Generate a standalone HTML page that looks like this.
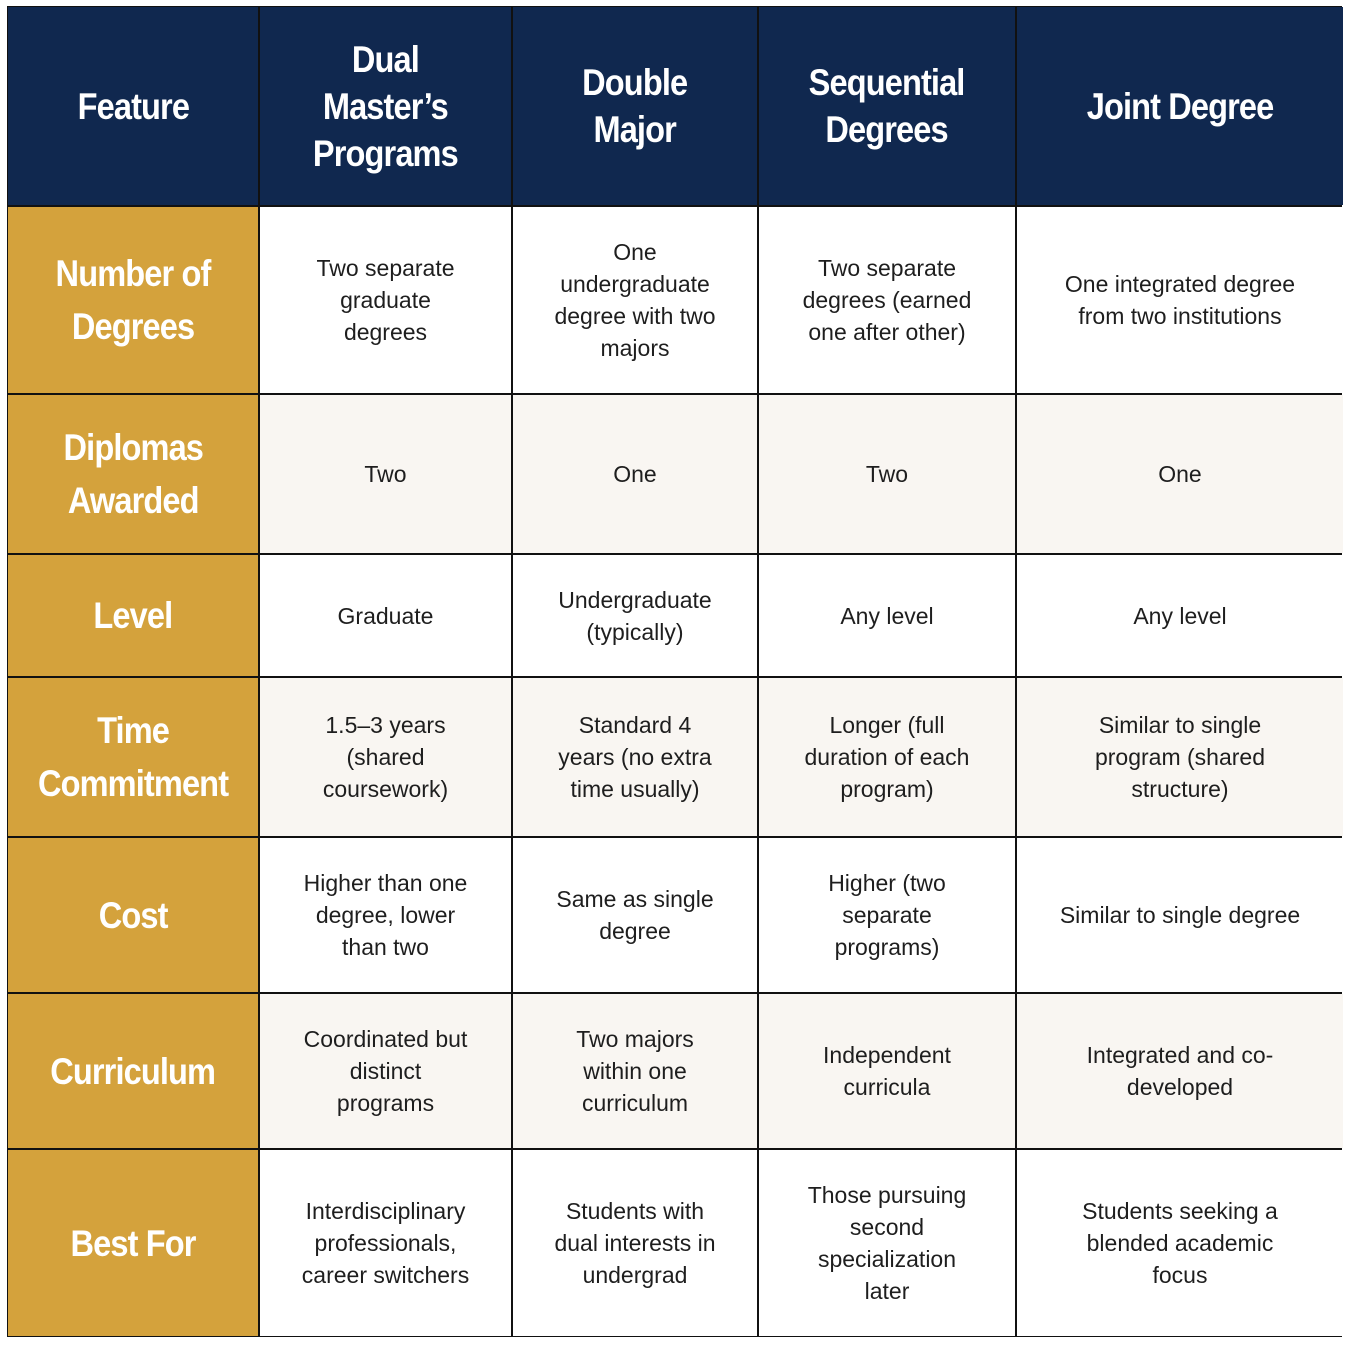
<!DOCTYPE html>
<html><head><meta charset="utf-8">
<style>
html,body{margin:0;padding:0;background:#fff;width:1349px;height:1346px;overflow:hidden}
.grid{position:absolute;left:7px;top:6px;width:1333px;display:grid;
grid-template-columns:250px 251px 244px 256px 326px;
grid-template-rows:198px 186px 158px 121px 158px 154px 154px 186px;
gap:2px;background:#111;border:1px solid #111}
.c{display:flex;align-items:center;justify-content:center;text-align:center;box-sizing:border-box;padding:0 18px;
font-family:"Liberation Sans",sans-serif;font-size:23px;line-height:32px;color:#1e1e1e;background:#fff}
.alt{background:#f9f6f2}
.h{background:#10284f;color:#fff;font-weight:bold;font-size:37px;line-height:47px;letter-spacing:-1px}
.r{background:#d4a23c;color:#fff;font-weight:bold;font-size:37px;line-height:53px;letter-spacing:-1px;padding:0 6px}
.h span,.r span{display:inline-block;transform:scaleX(0.88)}
</style></head><body>
<div class="grid">
<div class="c h"><span>Feature</span></div>
<div class="c h"><span>Dual<br>Master’s<br>Programs</span></div>
<div class="c h"><span>Double<br>Major</span></div>
<div class="c h"><span>Sequential<br>Degrees</span></div>
<div class="c h"><span>Joint Degree</span></div>

<div class="c r"><span>Number of<br>Degrees</span></div>
<div class="c">Two separate<br>graduate<br>degrees</div>
<div class="c">One<br>undergraduate<br>degree with two<br>majors</div>
<div class="c">Two separate<br>degrees (earned<br>one after other)</div>
<div class="c">One integrated degree<br>from two institutions</div>

<div class="c r"><span>Diplomas<br>Awarded</span></div>
<div class="c alt">Two</div>
<div class="c alt">One</div>
<div class="c alt">Two</div>
<div class="c alt">One</div>

<div class="c r"><span>Level</span></div>
<div class="c">Graduate</div>
<div class="c">Undergraduate<br>(typically)</div>
<div class="c">Any level</div>
<div class="c">Any level</div>

<div class="c r"><span>Time<br>Commitment</span></div>
<div class="c alt">1.5–3 years<br>(shared<br>coursework)</div>
<div class="c alt">Standard 4<br>years (no extra<br>time usually)</div>
<div class="c alt">Longer (full<br>duration of each<br>program)</div>
<div class="c alt">Similar to single<br>program (shared<br>structure)</div>

<div class="c r"><span>Cost</span></div>
<div class="c">Higher than one<br>degree, lower<br>than two</div>
<div class="c">Same as single<br>degree</div>
<div class="c">Higher (two<br>separate<br>programs)</div>
<div class="c">Similar to single degree</div>

<div class="c r"><span>Curriculum</span></div>
<div class="c alt">Coordinated but<br>distinct<br>programs</div>
<div class="c alt">Two majors<br>within one<br>curriculum</div>
<div class="c alt">Independent<br>curricula</div>
<div class="c alt">Integrated and co-<br>developed</div>

<div class="c r"><span>Best For</span></div>
<div class="c">Interdisciplinary<br>professionals,<br>career switchers</div>
<div class="c">Students with<br>dual interests in<br>undergrad</div>
<div class="c">Those pursuing<br>second<br>specialization<br>later</div>
<div class="c">Students seeking a<br>blended academic<br>focus</div>
</div>
</body></html>
